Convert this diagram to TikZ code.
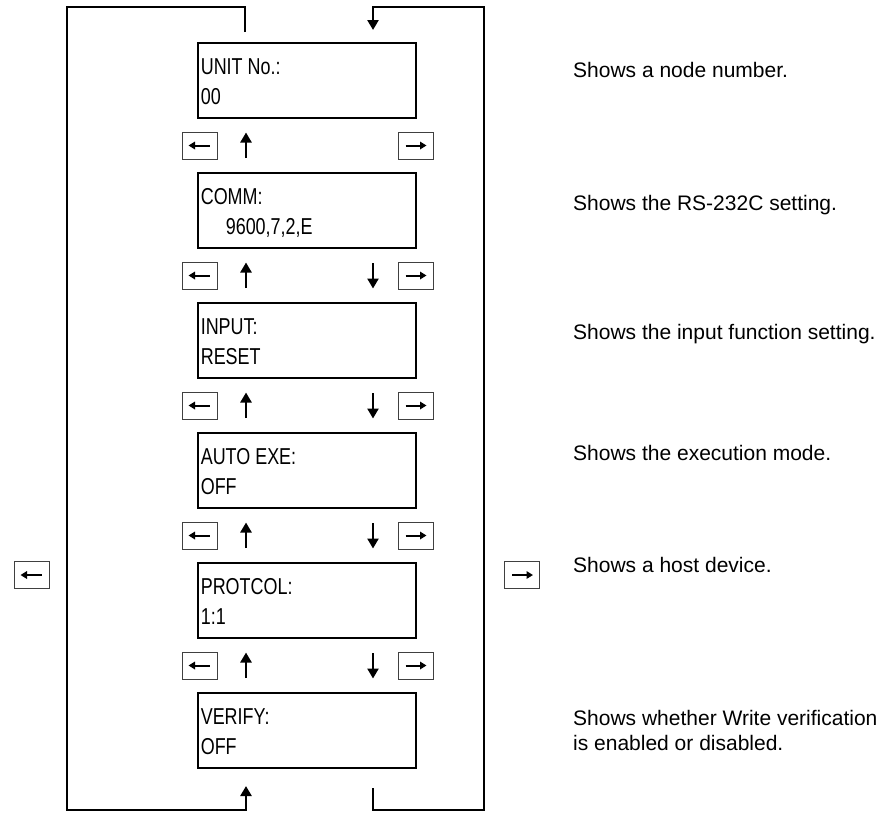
\documentclass[tikz,border=0pt]{standalone}
\usepackage{fontspec}
\setmainfont{Liberation Sans}
\newfontfamily\boxfont[FakeStretch=0.78]{Liberation Sans}
\usetikzlibrary{arrows.meta,calc}
\tikzset{
  dispbox/.style={draw, line width=2.8pt, minimum width=218pt, minimum height=75pt, inner sep=0pt},
  keybox/.style={draw=black!75, line width=1pt, minimum width=35pt, minimum height=27pt, inner sep=0pt},
  keyarrow/.style={line width=2pt, -{Triangle[length=6.5pt,width=7.5pt]}},
  navarrow/.style={line width=2.4pt, -{Triangle[length=10pt,width=11pt]}},
  looparrow/.style={line width=2.8pt, -{Triangle[length=10pt,width=11pt]}},
  disptext/.style={anchor=base west, inner sep=0pt, font=\boxfont\fontsize{23}{27}\selectfont},
  desc/.style={anchor=base west, inner sep=0pt, font=\fontsize{21}{25}\selectfont, align=left},
}
\begin{document}
\begin{tikzpicture}[x=1pt,y=-1pt]
\useasboundingbox (0,0) rectangle (882,817);

% display boxes
\foreach \n/\yc in {b1/80.5,b2/210.5,b3/340.5,b4/470.5,b5/600.5,b6/730.5}{
  \node[dispbox] (\n) at (307,\yc) {};
}
% texts in boxes
\node[disptext] (t1a) at ($(b1.north west)+(4,33)$) {UNIT No.:};
\node[disptext] (t1b) at ($(b1.north west)+(4,63)$) {00};
\node[disptext] (t2a) at ($(b2.north west)+(4,33)$) {COMM:};
\node[disptext] (t2b) at ($(b2.north west)+(29,63)$) {9600,7,2,E};
\node[disptext] (t3a) at ($(b3.north west)+(4,33)$) {INPUT:};
\node[disptext] (t3b) at ($(b3.north west)+(4,63)$) {RESET};
\node[disptext] (t4a) at ($(b4.north west)+(4,33)$) {AUTO EXE:};
\node[disptext] (t4b) at ($(b4.north west)+(4,63)$) {OFF};
\node[disptext] (t5a) at ($(b5.north west)+(4,33)$) {PROTCOL:};
\node[disptext] (t5b) at ($(b5.north west)+(4,63)$) {1:1};
\node[disptext] (t6a) at ($(b6.north west)+(4,33)$) {VERIFY:};
\node[disptext] (t6b) at ($(b6.north west)+(4,63)$) {OFF};

% key rows
\foreach \r/\yc in {1/145.5,2/275.5,3/405.5,4/535.5,5/665.5}{
  \node[keybox] (kl\r) at (199.5,\yc) {};
  \node[keybox] (kr\r) at (415.5,\yc) {};
  \draw[keyarrow] ($(kl\r.center)+(10,0)$) -- ($(kl\r.center)+(-11,0)$);
  \draw[keyarrow] ($(kr\r.center)+(-10,0)$) -- ($(kr\r.center)+(11,0)$);
  \coordinate (ua\r) at (246,\yc);
  \draw[navarrow] ($(ua\r)+(0,12.5)$) -- ($(ua\r)+(0,-13)$);
}
\foreach \r/\yc in {2/275.5,3/405.5,4/535.5,5/665.5}{
  \coordinate (da\r) at (373,\yc);
  \draw[navarrow] ($(da\r)+(0,-12.5)$) -- ($(da\r)+(0,13)$);
}

% standalone keys
\node[keybox] (kL) at (31.5,575) {};
\node[keybox] (kR) at (522,575) {};
\draw[keyarrow] ($(kL.center)+(10,0)$) -- ($(kL.center)+(-11,0)$);
\draw[keyarrow] ($(kR.center)+(-10,0)$) -- ($(kR.center)+(11,0)$);

% outer loop
\coordinate (tl1) at (245,32);
\coordinate (tl2) at (245,7);
\coordinate (tl3) at (67,7);
\coordinate (bl1) at (67,810);
\coordinate (bl2) at (246,810);
\coordinate (bl3) at (246,786);
\draw[looparrow] (tl1) -- (tl2) -- (tl3) -- (bl1) -- (bl2) -- (bl3);
\coordinate (br1) at (373,788);
\coordinate (br2) at (373,810);
\coordinate (br3) at (484,810);
\coordinate (tr1) at (484,7);
\coordinate (tr2) at (373,7);
\coordinate (tr3) at (373,30);
\draw[looparrow] (br1) -- (br2) -- (br3) -- (tr1) -- (tr2) -- (tr3);

% descriptions
\node[desc] (d1) at (573,77.5) {Shows a node number.};
\node[desc] (d2) at (573,210.5) {Shows the RS-232C setting.};
\node[desc] (d3) at (573,339.5) {Shows the input function setting.};
\node[desc] (d4) at (573,460.5) {Shows the execution mode.};
\node[desc] (d5) at (573,572.5) {Shows a host device.};
\node[desc] (d6a) at (573,725.5) {Shows whether Write verification};
\node[desc] (d6b) at (573,750.5) {is enabled or disabled.};
\end{tikzpicture}
\end{document}
